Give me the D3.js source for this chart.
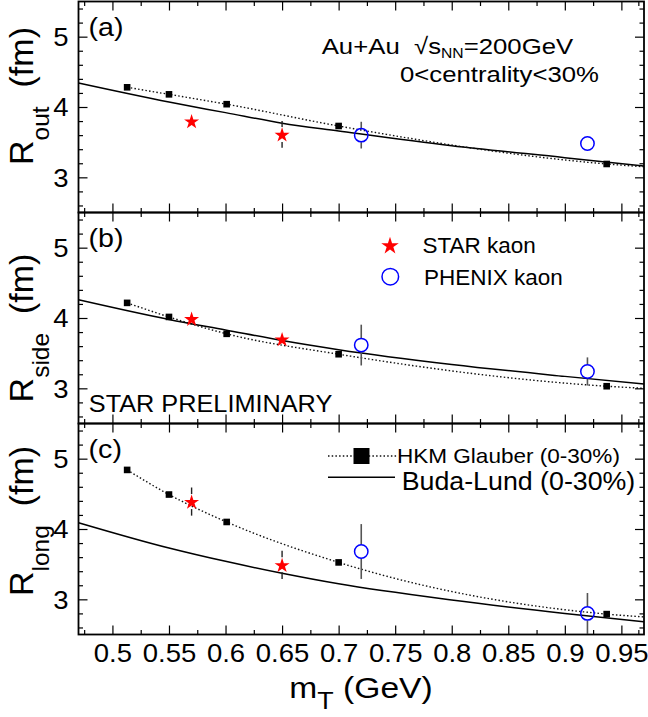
<!DOCTYPE html>
<html><head><meta charset="utf-8">
<script src="https://cdn.jsdelivr.net/npm/d3@7"></script>
<style>
body{margin:0;background:#fff}
svg{display:block}
text{font-family:"Liberation Sans",Arial,Helvetica,sans-serif;fill:#000;white-space:pre}
</style>
</head><body>
<svg id="c" width="648" height="717"></svg>
<script>
// ---------- data ----------
const hkmMt    = [0.513, 0.55, 0.601, 0.70, 0.937];
const hkmRout  = [4.28, 4.18, 4.04, 3.73, 3.19];
const hkmRside = [4.215, 4.015, 3.775, 3.485, 3.03];
const hkmRlong = [4.84, 4.49, 4.10, 3.525, 2.79];
const hkmEdgeMt = 0.97;
const hkmEdgeR  = [3.15, 3.00, 2.75];   // dotted line end at right edge (out, side, long)

const starMt       = [0.57, 0.65];
const starRout     = [3.80, 3.61];
const starRoutErr  = [0.05, 0.19];
const starRside    = [3.99, 3.70];
const starRsideErr = [0.05, 0.05];
const starRlong    = [4.39, 3.49];
const starRlongErr = [0.20, 0.20];

const phenixMt       = [0.72, 0.92];
const phenixRout     = [3.60, 3.48];
const phenixRoutErr  = [0.19, 0.07];
const phenixRside    = [3.615, 3.24];
const phenixRsideErr = [0.29, 0.20];
const phenixRlong    = [3.68, 2.80];
const phenixRlongErr = [0.39, 0.29];

const budaMt    = [0.47, 0.55, 0.60, 0.65, 0.70, 0.80, 0.90, 0.97];
const budaRout  = [4.34, 4.07, 3.92, 3.77, 3.66, 3.45, 3.28, 3.16];
const budaRside = [4.26, 3.98, 3.83, 3.68, 3.55, 3.34, 3.17, 3.06];
const budaRlong = [4.09, 3.73, 3.54, 3.37, 3.22, 2.99, 2.80, 2.68];

const xMajor = [0.5, 0.55, 0.6, 0.65, 0.7, 0.75, 0.8, 0.85, 0.9, 0.95];
const xMajorLabels = ["0.5","0.55","0.6","0.65","0.7","0.75","0.8","0.85","0.9","0.95"];
const xMinor = [0.475,0.525,0.575,0.625,0.675,0.725,0.775,0.825,0.875,0.925,0.965];
const yMajor = [3, 4, 5];
const yMajorLabels = ["3","4","5"];
const yMinor = [2.6,2.8,3.2,3.4,3.6,3.8,4.2,4.4,4.6,4.8,5.2,5.4];

const panelLabels = ["(a)", "(b)", "(c)"];
const yTitleMain = "R";
const yTitleSubs = ["out", "side", "long"];

// ---------- layout ----------
const svg = d3.select("#c");
const L = 78.5, R = 644, T0 = 1.5, PH = 211;
const x = d3.scaleLinear().domain([0.47, 0.97]).range([L, R]);

function txt(g, px, py, parts, opt) {
  const t = g.append("text")
    .attr("transform", `translate(${px},${py})` + (opt.rot ? ` rotate(${opt.rot})` : "") + ` scale(${opt.sx||1},1)`)
    .attr("text-anchor", opt.anchor || "start")
    .attr("font-size", opt.size);
  parts.forEach(p => {
    const s = t.append("tspan").text(p.t);
    if (p.size) s.attr("font-size", p.size);
    if (p.dy) s.attr("dy", p.dy);
  });
  return t;
}

const panels = [
  {hkm: hkmRout, edge: hkmEdgeR[0], star: starRout, starErr: starRoutErr, ph: phenixRout, phErr: phenixRoutErr, buda: budaRout, ty: 96},
  {hkm: hkmRside, edge: hkmEdgeR[1], star: starRside, starErr: starRsideErr, ph: phenixRside, phErr: phenixRsideErr, buda: budaRside, ty: 328},
  {hkm: hkmRlong, edge: hkmEdgeR[2], star: starRlong, starErr: starRlongErr, ph: phenixRlong, phErr: phenixRlongErr, buda: budaRlong, ty: 521}
];

const starSym = d3.symbol().type(d3.symbolStar);

panels.forEach((P, i) => {
  const top = T0 + i * PH, bot = top + PH;
  const y = d3.scaleLinear().domain([2.5, 5.5]).range([bot, top]);
  const g = svg.append("g");

  // Buda-Lund solid curve
  const budaPts = budaMt.map((m, k) => [m, P.buda[k]]);
  g.append("path").datum(budaPts)
    .attr("d", d3.line().x(d => x(d[0])).y(d => y(d[1])).curve(d3.curveMonotoneX))
    .attr("fill", "none").attr("stroke", "#000").attr("stroke-width", 1.5);

  // HKM dotted curve
  const hkmPts = hkmMt.map((m, k) => [m, P.hkm[k]]).concat([[hkmEdgeMt, P.edge]]);
  g.append("path").datum(hkmPts)
    .attr("d", d3.line().x(d => x(d[0])).y(d => y(d[1])).curve(d3.curveMonotoneX))
    .attr("fill", "none").attr("stroke", "#111").attr("stroke-width", 1.4)
    .attr("stroke-dasharray", "1.5,2.2");

  // HKM squares
  const sq = 6.6;
  g.selectAll(".sq").data(hkmMt).enter().append("rect")
    .attr("x", d => x(d) - sq/2).attr("y", (d, k) => y(P.hkm[k]) - sq/2)
    .attr("width", sq).attr("height", sq).attr("fill", "#000");

  // error bars (outside markers)
  function errBar(mx, v, e, half, col, w) {
    const cx = x(mx), cy = y(v), yt = y(v + e), yb = y(v - e);
    if (cy - yt > half) g.append("line").attr("x1", cx).attr("x2", cx).attr("y1", yt).attr("y2", cy - half).attr("stroke", col).attr("stroke-width", w);
    if (yb - cy > half) g.append("line").attr("x1", cx).attr("x2", cx).attr("y1", cy + half).attr("y2", yb).attr("stroke", col).attr("stroke-width", w);
  }
  starMt.forEach((m, k) => errBar(m, P.star[k], P.starErr[k], 7.5, "#222", 1.4));
  phenixMt.forEach((m, k) => errBar(m, P.ph[k], P.phErr[k], 7, "#555", 1.6));

  // STAR stars
  g.selectAll(".st").data(starMt).enter().append("path")
    .attr("d", starSym.size(70)())
    .attr("transform", (d, k) => `translate(${x(d)},${y(P.star[k]) + 0.8})`)
    .attr("fill", "#ff0000");

  // PHENIX open circles
  g.selectAll(".ci").data(phenixMt).enter().append("circle")
    .attr("cx", d => x(d)).attr("cy", (d, k) => y(P.ph[k])).attr("r", 6.7)
    .attr("fill", "none").attr("stroke", "#0000ff").attr("stroke-width", 1.5);

  // axes: ticks on all four sides
  const tickStyle = sel => { sel.select(".domain").remove(); sel.selectAll("line").attr("stroke", "#000").attr("stroke-width", 1.2); };
  const gl = g.append("g").attr("transform", `translate(${L},0)`);
  gl.call(d3.axisLeft(y).tickValues(yMajor).tickSize(-9).tickPadding(10).tickFormat((d, k) => yMajorLabels[k])).call(tickStyle);
  gl.selectAll("text").attr("font-size", 25).attr("font-family", null)
    .attr("x", -10 / 1.1).attr("transform", "scale(1.1,1)").attr("dy", "0.35em");
  g.append("g").attr("transform", `translate(${L},0)`).call(d3.axisLeft(y).tickValues(yMinor).tickSize(-4.5).tickFormat("")).call(tickStyle);
  g.append("g").attr("transform", `translate(${R},0)`).call(d3.axisRight(y).tickValues(yMajor).tickSize(-9).tickFormat("")).call(tickStyle);
  g.append("g").attr("transform", `translate(${R},0)`).call(d3.axisRight(y).tickValues(yMinor).tickSize(-4.5).tickFormat("")).call(tickStyle);
  g.append("g").attr("transform", `translate(0,${top})`).call(d3.axisTop(x).tickValues(xMajor).tickSize(-9).tickFormat("")).call(tickStyle);
  g.append("g").attr("transform", `translate(0,${top})`).call(d3.axisTop(x).tickValues(xMinor).tickSize(-4.5).tickFormat("")).call(tickStyle);
  const gb = g.append("g").attr("transform", `translate(0,${bot})`);
  if (i === 2) {
    gb.call(d3.axisBottom(x).tickValues(xMajor).tickSize(-9).tickPadding(9.5).tickFormat((d, k) => xMajorLabels[k])).call(tickStyle);
    gb.selectAll("text").attr("font-size", 25).attr("font-family", null).attr("transform", "scale(1.1,1)");
  } else {
    gb.call(d3.axisBottom(x).tickValues(xMajor).tickSize(-9).tickFormat("")).call(tickStyle);
  }
  g.append("g").attr("transform", `translate(0,${bot})`).call(d3.axisBottom(x).tickValues(xMinor).tickSize(-4.5).tickFormat("")).call(tickStyle);

  // frame
  g.append("rect").attr("x", L).attr("y", top).attr("width", R - L).attr("height", PH)
    .attr("fill", "none").attr("stroke", "#000").attr("stroke-width", 1.8);

  // panel label
  txt(g, 88.6, top + 34.5, [{t: panelLabels[i]}], {size: 26, sx: 1.1});

  // y title
  txt(svg, 33, P.ty, [{t: yTitleMain}, {t: yTitleSubs[i], size: 24.5, dy: 16}, {t: "  (fm)", dy: -16}],
      {size: 34, anchor: "middle", rot: -90});
});

// header text panel (a)
txt(svg, 321.7, 53.5, [{t: "Au+Au  \u221As"}, {t: "NN", size: 14, dy: 4}, {t: "=200GeV", dy: -4}], {size: 23, sx: 1.12});
txt(svg, 400, 82, [{t: "0<centrality<30%"}], {size: 23, sx: 1.12});

// legend panel (b)
svg.append("path").attr("d", starSym.size(95)()).attr("transform", "translate(390,246)").attr("fill", "#ff0000");
txt(svg, 422.5, 252.7, [{t: "STAR kaon"}], {size: 22.5, sx: 1.0});
svg.append("circle").attr("cx", 390.3).attr("cy", 276.7).attr("r", 8.3)
  .attr("fill", "none").attr("stroke", "#0000ff").attr("stroke-width", 1.5);
txt(svg, 424, 285, [{t: "PHENIX kaon"}], {size: 22.5, sx: 1.0});
txt(svg, 88.8, 411.7, [{t: "STAR PRELIMINARY"}], {size: 23, sx: 1.1});

// legend panel (c)
svg.append("line").attr("x1", 328).attr("x2", 397).attr("y1", 456).attr("y2", 456)
  .attr("stroke", "#111").attr("stroke-width", 1.4).attr("stroke-dasharray", "1.5,2.2");
svg.append("rect").attr("x", 361.5 - 8).attr("y", 456 - 8).attr("width", 16).attr("height", 16).attr("fill", "#000");
txt(svg, 397, 463.3, [{t: "HKM Glauber (0-30%)"}], {size: 20.5, sx: 1.1});
svg.append("line").attr("x1", 328).attr("x2", 395).attr("y1", 477.3).attr("y2", 477.3)
  .attr("stroke", "#000").attr("stroke-width", 1.5);
txt(svg, 401.7, 490, [{t: "Buda-Lund (0-30%)"}], {size: 26, sx: 1.03});

// x title
txt(svg, 361, 698, [{t: "m"}, {t: "T", size: 24, dy: 11}, {t: " (GeV)", dy: -11}], {size: 30, sx: 1.12, anchor: "middle"});
</script>
</body></html>
